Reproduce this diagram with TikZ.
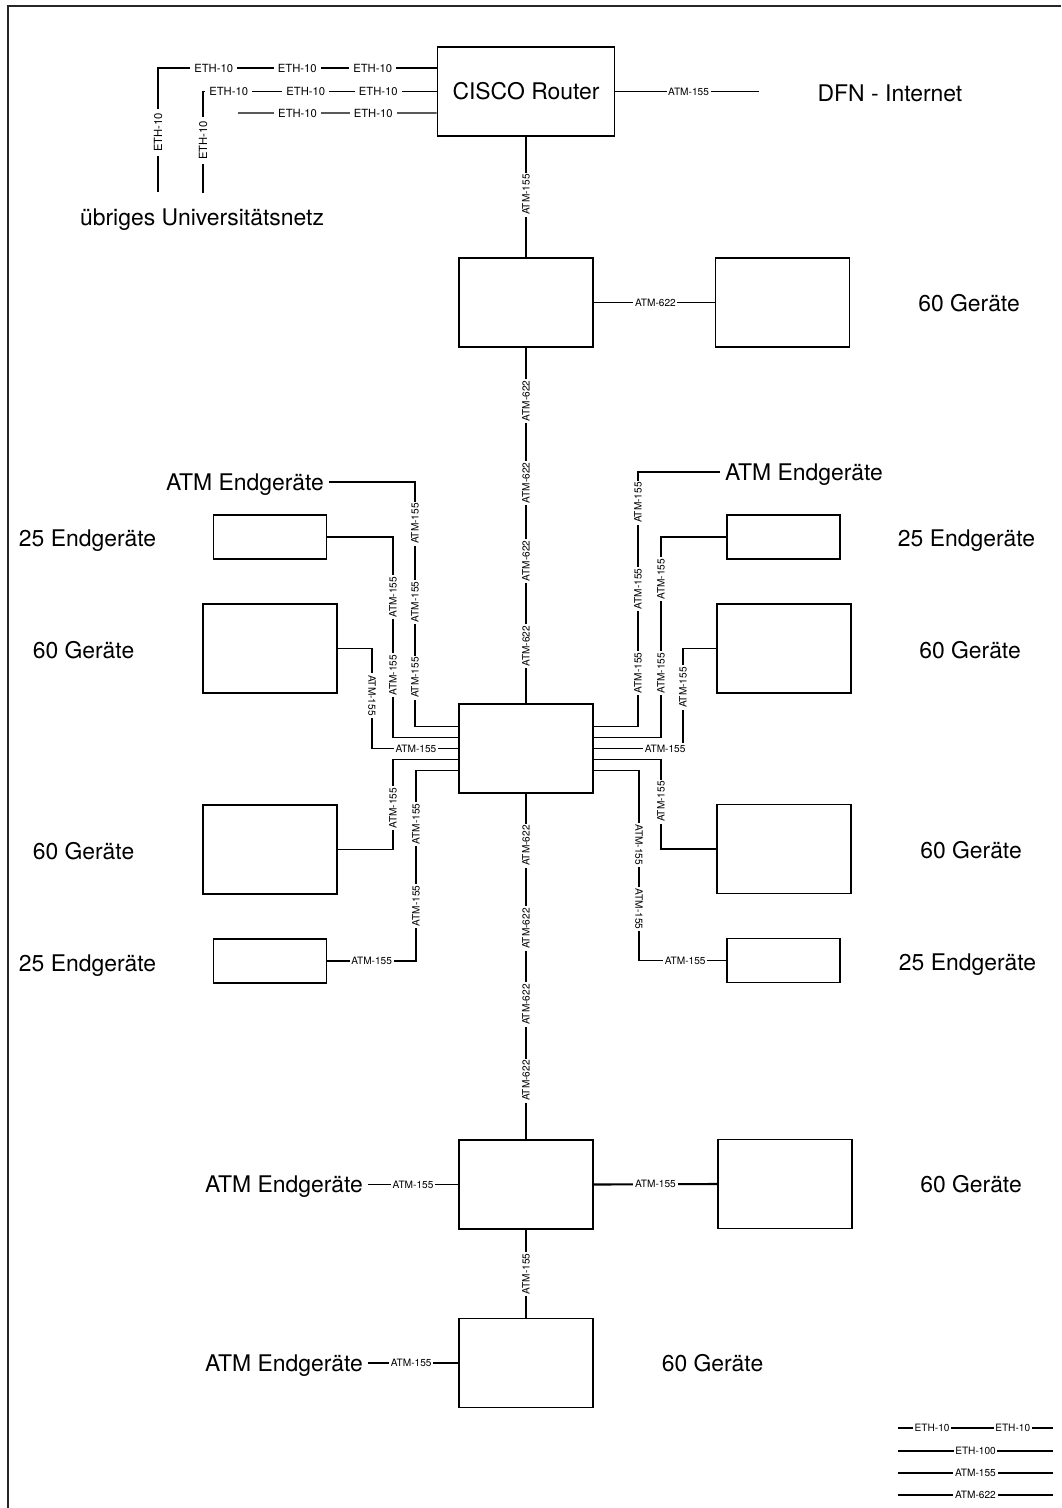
\documentclass[tikz,border=0pt]{standalone}
\usepackage{fontspec}
\setmainfont{TeX Gyre Heros}
\usetikzlibrary{calc}

\tikzset{
  unitbox/.style={draw, line width=1.05pt, minimum width=3.35cm, minimum height=2.225cm,
                  inner sep=0pt},
  routerbox/.style={unitbox, minimum width=4.425cm, font=\fontsize{16.3}{19}\selectfont},
  smallbox/.style={unitbox, minimum width=2.825cm, minimum height=1.1cm},
  devtext/.style={font=\fontsize{16.3}{19}\selectfont, text height=11.7pt, text depth=0pt},
  wire/.style={line width=0.85pt},
  tag/.style={font=\fontsize{7.2}{8}\selectfont, fill=white, inner sep=1.2pt,
              text height=5.2pt, text depth=0pt},
  ethtag/.style={tag, font=\fontsize{8}{9}\selectfont, text height=5.8pt, inner xsep=3pt},
  uptag/.style={tag, rotate=90},
  downtag/.style={tag, rotate=-90},
}

\begin{document}
\begin{tikzpicture}[x=0.025cm, y=-0.025cm]
\useasboundingbox (0,0) rectangle (1061,1508);
\draw[line width=0.9pt, black!85] (1061,6) -- (8,6) -- (8,1508);

% ================= router and backbone =================
\node[routerbox] (router) at (526,91.5) {CISCO Router};
\node[unitbox] (sw1) at (526,302.5) {};
\node[unitbox] (sw2) at (526,748.5) {};
\node[unitbox] (sw3) at (526,1184.5) {};
\node[unitbox] (sw4) at (526,1363) {};

\node[devtext] (dfn) at (890,93) {DFN - Internet};
\coordinate (dfnport) at (759,91.5);
\draw[wire] (router.east) -- node[tag, pos=.51] {ATM-155} (dfnport);

\draw[wire] (router.south) -- node[uptag, pos=.48] {ATM-155} (sw1.north);
\draw[wire] (sw1.south) -- node[uptag, pos=.15] {ATM-622} node[uptag, pos=.38] {ATM-622}
  node[uptag, pos=.6] {ATM-622} node[uptag, pos=.84] {ATM-622} (sw2.north);
\draw[wire] (sw2.south) -- node[uptag, pos=.15] {ATM-622} node[uptag, pos=.39] {ATM-622}
  node[uptag, pos=.61] {ATM-622} node[uptag, pos=.83] {ATM-622} (sw3.north);
\draw[wire] (sw3.south) -- node[uptag, pos=.5] {ATM-155} (sw4.north);

% ================= university network =================
\node[devtext] (uni) at (202,217) {übriges Universitätsnetz};
\coordinate (uni1) at (158,192);
\coordinate (uni2) at (203,193);
\coordinate (uni3) at (238,113);
\draw[wire] ($(router.west)+(0,-23.5)$) -- node[ethtag, pos=.23] {ETH-10}
  node[ethtag, pos=.5] {ETH-10} node[ethtag, pos=.8] {ETH-10} (158,68)
  -- node[ethtag, rotate=90, pos=.52] {ETH-10} (uni1);
\draw[wire] (router.west) -- node[ethtag, pos=.25] {ETH-10}
  node[ethtag, pos=.56] {ETH-10} node[ethtag, pos=.89] {ETH-10} (203,91.5)
  -- node[ethtag, rotate=90, pos=.48] {ETH-10} (uni2);
\draw[wire] ($(router.west)+(0,21.5)$) -- node[ethtag, pos=.32] {ETH-10}
  node[ethtag, pos=.7] {ETH-10} (uni3);

% ================= first switch =================
\node[unitbox] (pool1) at (782.5,302.5) {};
\node[devtext] (t60a) at (969,303) {60 Geräte};
\draw[wire] (sw1.east) -- node[tag, pos=.51] {ATM-622} (pool1.west);

% ================= central switch =================
\foreach \k/\dy in {1/-22,2/-11,3/0,4/11,5/22}{
  \coordinate (swL\k) at ($(sw2.west)+(0,\dy)$);
  \coordinate (swR\k) at ($(sw2.east)+(0,\dy)$);
}

% left side
\node[devtext] (atmL1) at (245,482) {ATM Endgeräte};
\node[smallbox] (endL1) at (270,537) {};
\node[unitbox] (poolL1) at (270,648.5) {};
\node[unitbox] (poolL2) at (270,849.5) {};
\node[smallbox] (endL2) at (270,961) {};
\node[devtext] (t25L1) at (87.5,538) {25 Endgeräte};
\node[devtext] (t60L1) at (83.5,650) {60 Geräte};
\node[devtext] (t60L2) at (83.5,851) {60 Geräte};
\node[devtext] (t25L2) at (87.5,963) {25 Endgeräte};

\draw[wire] (atmL1.east) -- (415,482) -- node[uptag, pos=.17] {ATM-155}
  node[uptag, pos=.49] {ATM-155} node[uptag, pos=.8] {ATM-155} (415,726.5) -- (swL1);
\draw[wire] (endL1.east) -- (393,537) -- node[uptag, pos=.3] {ATM-155}
  node[uptag, pos=.69] {ATM-155} (393,737.5) -- (swL2);
\draw[wire] (poolL1.east) -- (372,648.5) -- node[downtag, pos=.47] {ATM-155} (372,748.5)
  -- node[tag, pos=.51] {ATM-155} (swL3);
\draw[wire] (swL4) -- (393,759.5) -- node[uptag, pos=.54] {ATM-155} (393,849.5)
  -- (poolL2.east);
\draw[wire] (swL5) -- (416,770.5) -- node[uptag, pos=.28] {ATM-155}
  node[uptag, pos=.71] {ATM-155} (416,961) -- node[tag, pos=.5] {ATM-155} (endL2.east);

% right side
\node[devtext] (atmR1) at (804,472) {ATM Endgeräte};
\node[smallbox] (endR1) at (783.5,537) {};
\node[unitbox] (poolR1) at (784,648.5) {};
\node[unitbox] (poolR2) at (784,849) {};
\node[smallbox] (endR2) at (783.5,960.5) {};
\node[devtext] (t25R1) at (966.5,538) {25 Endgeräte};
\node[devtext] (t60R1) at (970,650) {60 Geräte};
\node[devtext] (t60R2) at (971,850) {60 Geräte};
\node[devtext] (t25R2) at (967.5,962) {25 Endgeräte};

\draw[wire] (swR1) -- (638,726.5) -- node[uptag, pos=.21] {ATM-155}
  node[uptag, pos=.54] {ATM-155} node[uptag, pos=.88] {ATM-155} (638,472) -- (atmR1.west);
\draw[wire] (swR2) -- (661,737.5) -- node[uptag, pos=.32] {ATM-155}
  node[uptag, pos=.79] {ATM-155} (661,537) -- (endR1.west);
\draw[wire] (swR3) -- node[tag, pos=.8] {ATM-155} (683,748.5)
  -- node[uptag, pos=.61] {ATM-155} (683,648.5) -- (poolR1.west);
\draw[wire] (swR4) -- (661,759.5) -- node[uptag, pos=.47] {ATM-155} (661,849)
  -- (poolR2.west);
\draw[wire] (swR5) -- (639,770.5) -- node[downtag, pos=.39] {ATM-155}
  node[downtag, pos=.73] {ATM-155} (639,960.5) -- node[tag, pos=.53] {ATM-155} (endR2.west);

% ================= lower switches =================
\node[unitbox] (pool2) at (785,1184) {};
\node[devtext] (t60S3) at (971,1184) {60 Geräte};
\node[devtext] (atmL3) at (284,1184.5) {ATM Endgeräte};
\node[devtext] (atmL4) at (284,1363) {ATM Endgeräte};
\node[devtext] (t60S4) at (712.5,1363) {60 Geräte};

\draw[wire] (atmL3.east) -- node[tag, pos=.5] {ATM-155} (sw3.west);
\draw[wire, line width=1.5pt] (sw3.east) -- node[tag, pos=.5] {ATM-155} (pool2.west);
\draw[wire] (atmL4.east) -- node[tag, pos=.48] {ATM-155} (sw4.west);

% ================= legend =================
\draw[wire] (898,1428) -- node[tag, pos=.22] {ETH-10} node[tag, pos=.74] {ETH-10} (1053,1428);
\foreach \yy/\txt in {1451/ETH-100,1473/ATM-155,1495/ATM-622}
  \draw[wire] (898,\yy) -- node[tag, pos=.5] {\txt} (1053,\yy);

\end{tikzpicture}
\end{document}
